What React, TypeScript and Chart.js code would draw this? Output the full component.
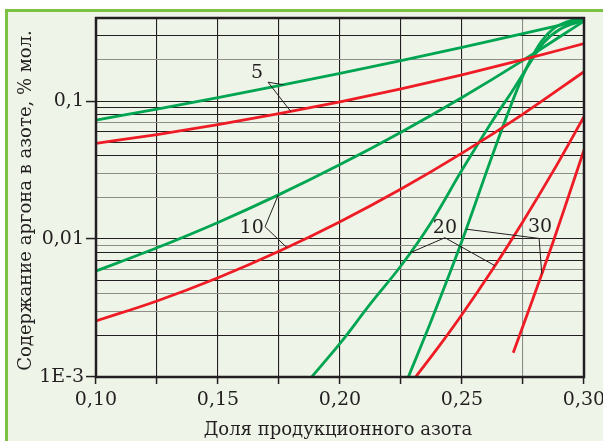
import React, { useEffect, useRef } from "react";
import { Chart, registerables } from "chart.js";

Chart.register(...registerables);

// Argon content in nitrogen (% mol) against the product nitrogen fraction.
// Green and red pairs belong to the parameter values 5, 10, 20 and 30.
const g5X = [0.1, 0.125, 0.15, 0.175, 0.2, 0.225, 0.25, 0.275, 0.3];
const g5Y = [0.0728, 0.0875, 0.106, 0.1293, 0.1588, 0.1966, 0.245, 0.3078, 0.3896];

const r5X = [0.1, 0.125, 0.15, 0.175, 0.2, 0.225, 0.25, 0.275, 0.3];
const r5Y = [0.0494, 0.0572, 0.0675, 0.081, 0.0988, 0.1228, 0.155, 0.1995, 0.261];

const g10X = [0.1, 0.125, 0.15, 0.175, 0.2, 0.225, 0.25, 0.275, 0.3];
const g10Y = [0.00586, 0.00864, 0.01319, 0.02098, 0.03467, 0.05952, 0.1062, 0.1972, 0.38];

const r10X = [0.1, 0.125, 0.15, 0.175, 0.2, 0.225, 0.25, 0.275, 0.3];
const r10Y = [0.002546, 0.003558, 0.005243, 0.008145, 0.01335, 0.02304, 0.04194, 0.0805, 0.1631];

const g20X = [0.1884, 0.2, 0.2125, 0.225, 0.2375, 0.25, 0.2625, 0.2715, 0.2775, 0.2835, 0.29, 0.3];
const g20Y = [0.001, 0.00175, 0.0034, 0.0064, 0.0133, 0.0316, 0.072, 0.125, 0.185, 0.265, 0.33, 0.385];

const r20X = [0.231, 0.24, 0.25, 0.2625, 0.275, 0.2875, 0.3];
const r20Y = [0.001, 0.001617, 0.002838, 0.006012, 0.0134, 0.0313, 0.077];

const g30X = [0.228, 0.2369, 0.25, 0.2625, 0.2725, 0.2775, 0.2825, 0.2875, 0.293, 0.3];
const g30Y = [0.001, 0.00243, 0.0097, 0.0407, 0.12, 0.19, 0.27, 0.335, 0.375, 0.4];

const r30X = [0.271, 0.2775, 0.2825, 0.2875, 0.2925, 0.3];
const r30Y = [0.0015, 0.0031, 0.00544, 0.00972, 0.01772, 0.0442];

// Axis ticks and labels
const xGridValues = [0.1, 0.125, 0.15, 0.175, 0.2, 0.225, 0.25, 0.275, 0.3];
const xLabelValues = [0.1, 0.15, 0.2, 0.25, 0.3];
const xLabelTexts = ["0,10", "0,15", "0,20", "0,25", "0,30"];

const yGridValues = [
  0.001, 0.002, 0.003, 0.004, 0.005, 0.006, 0.007, 0.008, 0.009,
  0.01, 0.02, 0.03, 0.04, 0.05, 0.06, 0.07, 0.08, 0.09,
  0.1, 0.2, 0.3, 0.4,
];
const yLabelValues = [0.001, 0.01, 0.1];
const yLabelTexts = ["1E-3", "0,01", "0,1"];

// Grid lines printed in a lighter grey
const yGridFaint = [0.2, 0.07, 0.03, 0.02, 0.009, 0.006, 0.004, 0.003];
const xGridFaint = [0.275];

const xTitle = "Доля продукционного азота";
const yTitle = "Содержание аргона в азоте, % мол.";

// Curve labels: text position, bend of the leader, and the curves it points to
const curveNotes = [
  { text: "5", at: [0.166, 0.159], bend: [0.1705, 0.137], ends: [["g5", 0.1768], ["r5", 0.1798]] },
  { text: "10", at: [0.1638, 0.01195], bend: [0.1693, 0.01228], ends: [["g10", 0.1747], ["r10", 0.1782]] },
  { text: "20", at: [0.243, 0.01195], bend: [0.243, 0.01022], ends: [["g20", 0.2287], ["r20", 0.2635]] },
  { text: "30", at: [0.282, 0.01216], bend: [0.2816, 0.0101], ends: [["g30", 0.2517], ["r30", 0.2827]] },
];

const GREEN = "#00a551";
const RED = "#ee1c25";
const INK = "#231f20";
const FAINT = "#8c8c88";
const FONT = '"DejaVu Serif", serif';

const series = [
  { key: "g5", xs: g5X, ys: g5Y, color: GREEN },
  { key: "r5", xs: r5X, ys: r5Y, color: RED },
  { key: "g10", xs: g10X, ys: g10Y, color: GREEN },
  { key: "r10", xs: r10X, ys: r10Y, color: RED },
  { key: "g20", xs: g20X, ys: g20Y, color: GREEN },
  { key: "r20", xs: r20X, ys: r20Y, color: RED },
  { key: "g30", xs: g30X, ys: g30Y, color: GREEN },
  { key: "r30", xs: r30X, ys: r30Y, color: RED },
];

const same = (a: number, b: number) =>
  Math.abs(a - b) <= 1e-6 * Math.max(Math.abs(a), Math.abs(b));

const labelFor = (v: number, values: number[], texts: string[]) => {
  const i = values.findIndex((w) => same(w, v));
  return i >= 0 ? texts[i] : "";
};

// Log-linear interpolation along a curve
const curveAt = (key: string, x: number) => {
  const s = series.find((c) => c.key === key)!;
  const { xs, ys } = s;
  let i = 0;
  while (i < xs.length - 2 && x > xs[i + 1]) i++;
  const t = (x - xs[i]) / (xs[i + 1] - xs[i]);
  return Math.pow(10, Math.log10(ys[i]) + t * (Math.log10(ys[i + 1]) - Math.log10(ys[i])));
};

const notesPlugin = {
  id: "curveNotes",
  afterDatasetsDraw(chart: any) {
    const { ctx, scales } = chart;
    const px = (x: number) => scales.x.getPixelForValue(x);
    const py = (y: number) => scales.y.getPixelForValue(y);
    ctx.save();
    ctx.strokeStyle = INK;
    ctx.lineWidth = 1;
    for (const n of curveNotes) {
      const bx = px(n.bend[0]);
      const by = py(n.bend[1]);
      for (const [key, x] of n.ends as [string, number][]) {
        ctx.beginPath();
        ctx.moveTo(bx, by);
        ctx.lineTo(px(x), py(curveAt(key, x)));
        ctx.stroke();
      }
      ctx.fillStyle = INK;
      ctx.font = `19px ${FONT}`;
      ctx.textAlign = "center";
      ctx.textBaseline = "middle";
      ctx.fillText(n.text, px(n.at[0]), py(n.at[1]));
    }
    ctx.restore();
  },
};

// Plot frame and the two axis titles
const framePlugin = {
  id: "plotFrame",
  afterDraw(chart: any) {
    const { ctx, chartArea: a } = chart;
    ctx.save();
    ctx.strokeStyle = INK;
    ctx.lineWidth = 2.5;
    ctx.strokeRect(a.left, a.top, a.right - a.left, a.bottom - a.top);

    ctx.fillStyle = INK;
    ctx.font = `18px ${FONT}`;
    ctx.textAlign = "center";
    ctx.textBaseline = "middle";
    ctx.fillText(xTitle, (a.left + a.right) / 2 - 2, 430);

    ctx.translate(26, (a.top + a.bottom) / 2 + 3);
    ctx.rotate(-Math.PI / 2);
    ctx.fillText(yTitle, 0, 0);
    ctx.restore();
  },
};

export default function App() {
  const canvasRef = useRef<HTMLCanvasElement>(null);

  useEffect(() => {
    const canvas = canvasRef.current;
    if (!canvas) return;
    const chart = new Chart(canvas, {
      type: "line",
      data: {
        datasets: series.map((s) => ({
          label: s.key,
          data: s.xs.map((x, i) => ({ x, y: s.ys[i] })),
          borderColor: s.color,
          backgroundColor: s.color,
          borderWidth: 2.8,
          pointRadius: 0,
          fill: false,
          cubicInterpolationMode: "monotone" as const,
        })),
      },
      options: {
        responsive: false,
        animation: false,
        devicePixelRatio: 1,
        layout: { padding: { top: 18, right: 19, left: 0, bottom: 0 } },
        plugins: { legend: { display: false }, tooltip: { enabled: false } },
        scales: {
          x: {
            type: "linear",
            min: 0.1,
            max: 0.3,
            afterBuildTicks: (s: any) => {
              s.ticks = xGridValues.map((v) => ({ value: v }));
            },
            afterFit: (s: any) => {
              s.height = 64;
              s.paddingLeft = 0;
              s.paddingRight = 0;
            },
            ticks: {
              autoSkip: false,
              maxRotation: 0,
              minRotation: 0,
              padding: 5,
              color: INK,
              font: { family: FONT, size: 19 },
              callback: (v: any) => labelFor(Number(v), xLabelValues, xLabelTexts),
            },
            grid: {
              color: (c: any) =>
                c.tick && xGridFaint.some((w) => same(w, c.tick.value)) ? FAINT : INK,
              lineWidth: 1.1,
              tickLength: 7,
              tickColor: INK,
              tickWidth: 1.5,
            },
            border: { display: false },
          },
          y: {
            type: "logarithmic",
            min: 0.001,
            max: 0.4,
            afterBuildTicks: (s: any) => {
              s.ticks = yGridValues.map((v) => ({ value: v }));
            },
            afterFit: (s: any) => {
              s.width = 96;
              s.paddingTop = 0;
              s.paddingBottom = 0;
            },
            ticks: {
              autoSkip: false,
              padding: 2,
              color: INK,
              font: { family: FONT, size: 19 },
              callback: (v: any) => labelFor(Number(v), yLabelValues, yLabelTexts),
            },
            grid: {
              color: (c: any) =>
                c.tick && yGridFaint.some((w) => same(w, c.tick.value)) ? FAINT : INK,
              lineWidth: 1.1,
              tickLength: 10,
              tickColor: (c: any) =>
                c.tick && yLabelValues.some((w) => same(w, c.tick.value)) ? INK : "rgba(0,0,0,0)",
              tickWidth: 1.5,
            },
            border: { display: false },
          },
        },
      },
      plugins: [notesPlugin, framePlugin],
    } as any);
    return () => chart.destroy();
  }, []);

  return (
    <div
      style={{
        position: "fixed",
        left: 0,
        top: 0,
        width: 603,
        height: 441,
        background: "#ffffff",
        overflow: "hidden",
      }}
    >
      <div
        style={{
          position: "absolute",
          left: 5,
          top: 9,
          right: 0,
          bottom: 0,
          background: "#eef4e8",
          borderTop: "3px solid #7bc144",
          borderLeft: "3px solid #7bc144",
        }}
      />
      <canvas
        ref={canvasRef}
        width={603}
        height={441}
        style={{ position: "absolute", left: 0, top: 0, width: 603, height: 441 }}
      />
    </div>
  );
}
